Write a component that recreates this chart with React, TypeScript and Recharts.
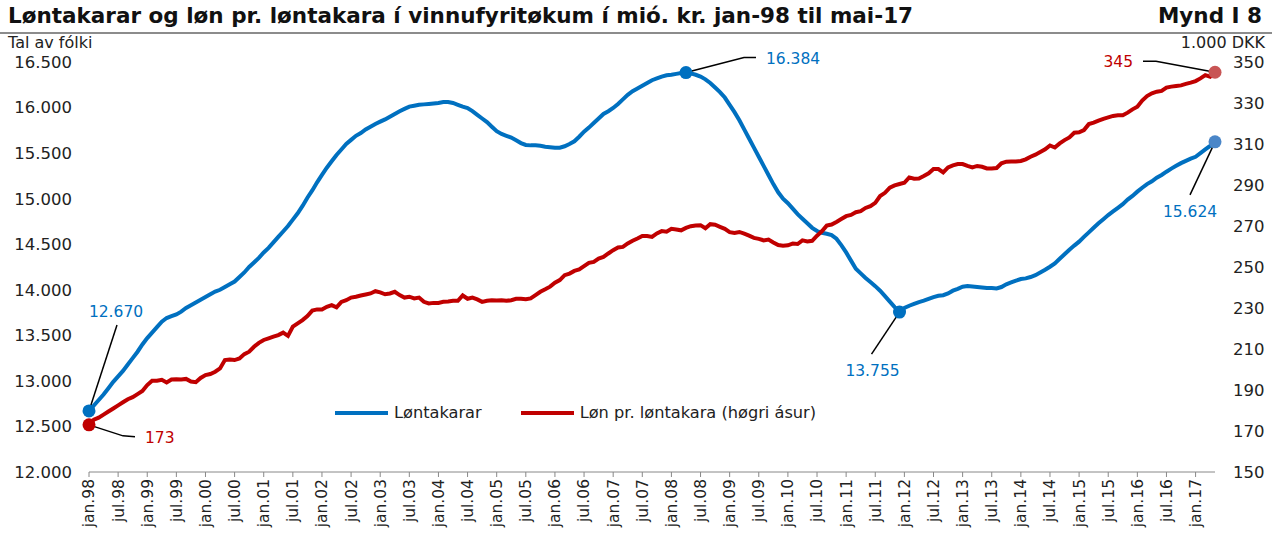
import React from 'react';
import { LineChart, Line, XAxis, YAxis, Legend } from 'recharts';

// month labels jan.98 .. mai.17
const monthNames = ['jan', 'feb', 'mar', 'apr', 'mai', 'jun', 'jul', 'aug', 'sep', 'okt', 'nov', 'des'];
const years = ['98', '99', '00', '01', '02', '03', '04', '05', '06', '07', '08', '09', '10', '11', '12', '13', '14', '15', '16', '17'];
const categories: string[] = [];
years.forEach((y) => monthNames.forEach((m) => categories.push(`${m}.${y}`)));
categories.splice(233);

// Løntakarar (tal av fólki), monthly
const lontakarar = [
  12670, 12730, 12790, 12850, 12920, 12990, 13050, 13110, 13180, 13250, 13320, 13400,
  13470, 13530, 13590, 13650, 13690, 13710, 13730, 13760, 13800, 13830, 13860, 13890,
  13920, 13950, 13980, 14000, 14030, 14060, 14090, 14140, 14190, 14250, 14300, 14350,
  14410, 14460, 14520, 14580, 14640, 14700, 14770, 14840, 14920, 15010, 15090, 15180,
  15260, 15340, 15410, 15480, 15540, 15600, 15645, 15690, 15720, 15760, 15790, 15820,
  15845, 15870, 15900, 15930, 15960, 15985, 16010, 16020, 16030, 16035, 16040, 16045,
  16050, 16060, 16060, 16050, 16030, 16010, 15995, 15960, 15920, 15880, 15840, 15790,
  15740, 15710, 15690, 15670, 15640, 15610, 15590, 15585, 15585, 15580, 15570, 15565,
  15560, 15560, 15575, 15600, 15630, 15680, 15735, 15780, 15830, 15880, 15930, 15960,
  15995, 16040, 16090, 16140, 16180, 16210, 16240, 16270, 16300, 16320, 16340, 16355,
  16360, 16370, 16380, 16384, 16375, 16360, 16340, 16310, 16270, 16220, 16170, 16110,
  16030, 15950, 15860, 15760, 15660, 15560, 15460, 15360, 15260, 15160, 15070, 15000,
  14950, 14890, 14830, 14780, 14730, 14680, 14645, 14625, 14615, 14600, 14560, 14490,
  14410, 14320, 14230, 14180, 14130, 14085, 14040, 13990, 13930, 13870, 13810, 13755,
  13800, 13825, 13845, 13865, 13880, 13900, 13920, 13935, 13940, 13960, 13990, 14010,
  14034, 14040, 14035, 14030, 14025, 14020, 14020, 14015, 14030, 14060, 14080, 14100,
  14118, 14125, 14140, 14160, 14190, 14220, 14253, 14290, 14340, 14390, 14440, 14485,
  14528, 14580, 14630, 14680, 14730, 14775, 14820, 14860, 14900, 14940, 14990, 15030,
  15077, 15120, 15160, 15190, 15230, 15260, 15296, 15330, 15360, 15390, 15415, 15440,
  15460, 15500, 15540, 15580, 15624,
];

// Løn pr. løntakara (1.000 DKK), monthly
const lon = [
  173, 175.5, 176.5, 178, 179.5, 181, 182.5, 184, 185.5, 186.5, 188, 189.5,
  192.4, 194.5, 194.5, 195, 193.7, 195.1, 195.3, 195.1, 195.4, 194.1, 193.8, 195.9,
  197.3, 197.8, 198.9, 200.5, 204.6, 204.9, 204.6, 205.4, 207.5, 208.7, 211.1, 213.0,
  214.4, 215.2, 216.0, 216.8, 218.0, 216.4, 220.9, 222.5, 224.1, 226.1, 228.7, 229.3,
  229.3, 230.6, 231.4, 230.3, 233.0, 233.8, 235.1, 235.5, 236.1, 236.6, 237.1, 238.2,
  237.6, 236.7, 237.1, 237.9, 236.3, 235.1, 235.5, 234.7, 235.1, 233.0, 232.2, 232.5,
  232.5, 233.0, 233.2, 233.5, 233.5, 236.1, 234.5, 235.1, 234.2, 233.0, 233.5, 233.8,
  233.7, 233.8, 233.5, 233.8, 234.5, 234.5, 234.3, 234.7, 236.3, 237.9, 239.1, 240.4,
  242.3, 243.6, 246.0, 246.8, 248.1, 248.8, 250.4, 252.0, 252.5, 254.1, 254.9, 256.6,
  258.2, 259.5, 259.8, 261.5, 262.8, 263.9, 265.1, 265.1, 264.7, 266.4, 267.5, 267.2,
  268.6, 268.3, 267.9, 269.1, 269.9, 270.2, 270.4, 268.9, 270.9, 270.6, 269.6, 268.6,
  267.0, 266.6, 267.1, 266.3, 265.3, 264.2, 263.7, 263.0, 263.4, 262.0, 260.7, 260.4,
  260.6, 261.4, 261.2, 263.0, 262.5, 262.8, 265.3, 267.4, 270.2, 270.7, 272.0, 273.4,
  274.8, 275.4, 276.7, 277.2, 278.8, 279.7, 281.3, 284.6, 286.2, 288.7, 289.8, 290.5,
  291.1, 293.7, 293.1, 293.2, 294.4, 295.7, 297.8, 297.8, 296.2, 298.6, 299.6, 300.2,
  300.2, 299.3, 298.6, 299.3, 298.9, 298.1, 298.0, 298.3, 300.6, 301.4, 301.5, 301.5,
  301.7, 302.5, 303.8, 304.8, 306.1, 307.4, 309.3, 308.3, 310.3, 311.9, 313.2, 315.5,
  315.7, 316.8, 319.7, 320.4, 321.4, 322.3, 323.0, 323.7, 324.0, 324.0, 325.3, 326.9,
  328.2, 331.2, 333.4, 334.7, 335.5, 335.9, 337.5, 338.0, 338.3, 338.6, 339.3, 339.9,
  340.7, 342.0, 343.6, 342.8, 345,
];

const leftTicks = [12000, 12500, 13000, 13500, 14000, 14500, 15000, 15500, 16000, 16500];
const rightTicks = [150, 170, 190, 210, 230, 250, 270, 290, 310, 330, 350];

const data = categories.map((m, i) => ({ month: m, lontakarar: lontakarar[i], lon: lon[i] }));

const BLUE = '#0070C0';
const RED = '#C00000';
const FONT = '"DejaVu Sans", Verdana, sans-serif';

const fmt = (n: number) => String(n).replace(/\B(?=(\d{3})+(?!\d))/g, '.');

type Note = {
  line: number[][];
  tx: number;
  ty: number;
  anchor: 'start' | 'middle' | 'end';
  fill?: string;
};

// callouts keyed by data index
const blueNotes: Record<number, Note> = {
  0: { line: [[0, 0], [28, -86]], tx: 27, ty: -94, anchor: 'middle' },
  123: { line: [[0, 0], [58, -15], [70, -15]], tx: 80, ty: -9, anchor: 'start' },
  167: { line: [[0, 0], [-28, 42]], tx: -27, ty: 64, anchor: 'middle' },
  232: { line: [[0, 0], [-25, 53]], tx: -25, ty: 75, anchor: 'middle', fill: '#4a86c8' },
};
const redNotes: Record<number, Note> = {
  0: { line: [[0, 0], [34, 11], [46, 12]], tx: 56, ty: 18, anchor: 'start' },
  232: { line: [[0, 0], [-59, -11], [-72, -11]], tx: -82, ty: -5, anchor: 'end', fill: '#c85555' },
};

const makeDot = (notes: Record<number, Note>, color: string) => (p: any) => {
  const note = notes[p.index];
  if (!note) return <g key={`d-${p.index}`} />;
  const pts = note.line.map(([dx, dy]) => `${p.cx + dx},${p.cy + dy}`).join(' ');
  return (
    <g key={`d-${p.index}`}>
      <polyline points={pts} fill="none" stroke="#000" strokeWidth={1.5} />
      <circle cx={p.cx} cy={p.cy} r={6.5} fill={note.fill || color} />
      <text x={p.cx + note.tx} y={p.cy + note.ty} textAnchor={note.anchor} fontSize={15.5} fill={color} fontFamily={FONT}>
        {fmt(p.value)}
      </text>
    </g>
  );
};

const MonthTick = (p: any) => (
  <text
    x={p.x}
    y={p.y}
    dy="0.35em"
    transform={`rotate(-90, ${p.x}, ${p.y})`}
    textAnchor="end"
    fontSize={15.5}
    fill="#222"
    fontFamily={FONT}
  >
    {p.payload.value}
  </text>
);

const renderLegend = () => (
  <div style={{ display: 'flex', alignItems: 'center', fontFamily: FONT, fontSize: 16.2, color: '#222' }}>
    <span style={{ width: 53, height: 4, background: BLUE, display: 'inline-block', marginRight: 6 }} />
    <span>Løntakarar</span>
    <span style={{ width: 53, height: 4, background: RED, display: 'inline-block', marginLeft: 39, marginRight: 6 }} />
    <span>Løn pr. løntakara (høgri ásur)</span>
  </div>
);

export default function App() {
  return (
    <div style={{ position: 'absolute', left: 0, top: 0, width: 1279, height: 539, background: '#fff', fontFamily: FONT }}>
      <div style={{ position: 'absolute', left: 8, top: 3, fontSize: 21.5, fontWeight: 'bold', color: '#111', whiteSpace: 'nowrap' }}>
        Løntakarar og løn pr. løntakara í vinnufyritøkum í mió. kr. jan-98 til mai-17
      </div>
      <div style={{ position: 'absolute', right: 17, top: 3, fontSize: 21.5, fontWeight: 'bold', color: '#111' }}>
        Mynd I 8
      </div>
      <div style={{ position: 'absolute', left: 0, top: 32, width: 1272, height: 2, background: '#8c8c8c' }} />
      <div style={{ position: 'absolute', left: 8, top: 33, fontSize: 16, color: '#222' }}>Tal av fólki</div>
      <div style={{ position: 'absolute', right: 14, top: 33, fontSize: 16, color: '#222' }}>1.000 DKK</div>
      <div style={{ position: 'absolute', left: 0, top: 0 }}>
        <LineChart width={1279} height={539} data={data} margin={{ top: 62, right: 9, bottom: 0, left: 9 }}>
          <XAxis
            dataKey="month"
            interval={5}
            height={67}
            tick={<MonthTick />}
            tickSize={5}
            tickMargin={2}
            stroke="#888"
            padding={{ left: 0, right: 0 }}
          />
          <YAxis
            yAxisId="left"
            domain={[12000, 16500]}
            ticks={leftTicks}
            tickFormatter={fmt}
            width={80}
            axisLine={false}
            tickLine={false}
            tickSize={0}
            tickMargin={17}
            tick={{ fill: '#222', fontSize: 16.5, fontFamily: FONT }}
          />
          <YAxis
            yAxisId="right"
            orientation="right"
            domain={[150, 350]}
            ticks={rightTicks}
            width={55}
            axisLine={false}
            tickLine={false}
            tickSize={0}
            tickMargin={18}
            tick={{ fill: '#222', fontSize: 16.5, fontFamily: FONT }}
          />
          <Legend
            layout="horizontal"
            verticalAlign="middle"
            align="center"
            content={renderLegend}
            wrapperStyle={{ position: 'absolute', left: 335, top: 403, width: 'auto' }}
          />
          <Line
            yAxisId="left"
            type="linear"
            dataKey="lontakarar"
            stroke={BLUE}
            strokeWidth={4}
            dot={makeDot(blueNotes, BLUE)}
            activeDot={false}
            isAnimationActive={false}
          />
          <Line
            yAxisId="right"
            type="linear"
            dataKey="lon"
            stroke={RED}
            strokeWidth={4}
            dot={makeDot(redNotes, RED)}
            activeDot={false}
            isAnimationActive={false}
          />
        </LineChart>
      </div>
    </div>
  );
}
